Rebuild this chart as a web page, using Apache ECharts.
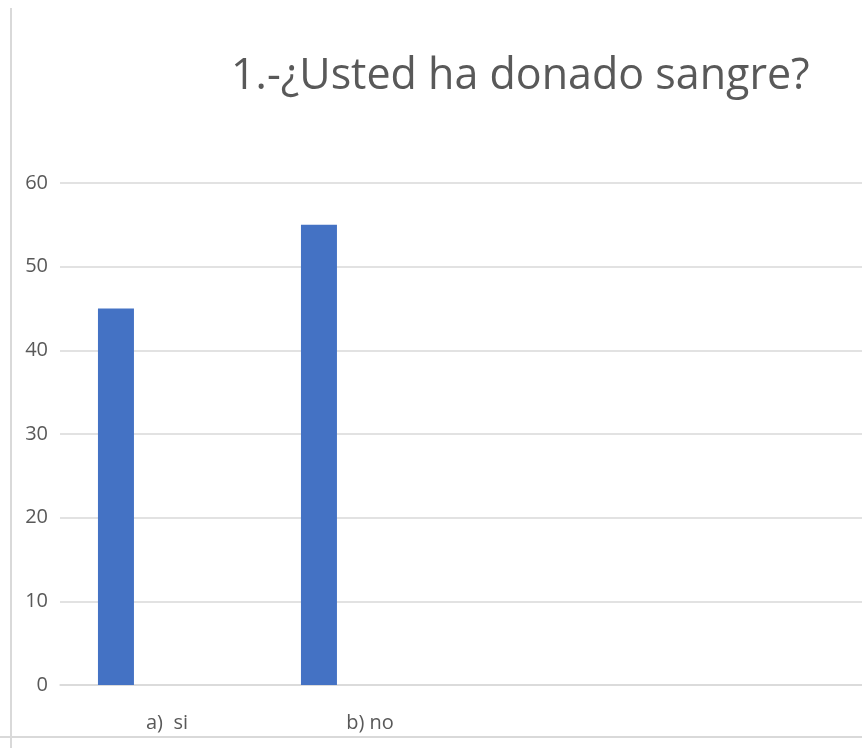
<!DOCTYPE html>
<html><head><meta charset="utf-8">
<script src="https://cdn.jsdelivr.net/npm/echarts@6/dist/echarts.min.js"></script>
<style>html,body{margin:0;padding:0;background:#fff;overflow:hidden}#c{width:872px;height:748px}</style>
</head><body><div id="c"></div>
<script>
const titleText = '1.-¿Usted ha donado sangre?';
const categories = ['a)  si', 'b) no', '', ''];
const values = [45, 55, '-', '-'];
const emptySeries = ['-', '-', '-', '-'];
const yMin = 0, yMax = 60, yInterval = 10;

const chart = echarts.init(document.getElementById('c'));
chart.setOption({
  backgroundColor: '#ffffff',
  animation: false,
  title: {
    text: titleText, left: 226, top: 50,
    textStyle: {fontFamily: 'Open Sans', fontSize: 43, fontWeight: 'normal', color: '#595959'}
  },
  grid: {left: 60, right: 0, top: 183, bottom: 63, containLabel: false},
  xAxis: {
    type: 'category', data: categories,
    axisLine: {show: true, lineStyle: {color: '#d9d9d9', width: 1.5}},
    axisTick: {show: false},
    axisLabel: {color: '#595959', fontFamily: 'Open Sans', fontSize: 20, margin: 28, padding: [0, 0, 0, 11]}
  },
  yAxis: {
    type: 'value', min: yMin, max: yMax, interval: yInterval,
    axisLine: {show: false}, axisTick: {show: false},
    axisLabel: {color: '#595959', fontFamily: 'Open Sans', fontSize: 20, margin: 12},
    splitLine: {lineStyle: {color: '#d9d9d9', width: 1.5}}
  },
  series: [
    {type: 'bar', data: values, barWidth: 36, barGap: '153%', itemStyle: {color: '#4472c4'}},
    {type: 'bar', data: emptySeries, barWidth: 36, itemStyle: {color: '#ed7d31'}}
  ],
  graphic: [
    {type: 'line', shape: {x1: 11, y1: 8, x2: 11, y2: 748}, style: {stroke: '#d9d9d9', lineWidth: 2}},
    {type: 'line', shape: {x1: 0, y1: 737, x2: 872, y2: 737}, style: {stroke: '#d9d9d9', lineWidth: 2}}
  ]
});
</script></body></html>
